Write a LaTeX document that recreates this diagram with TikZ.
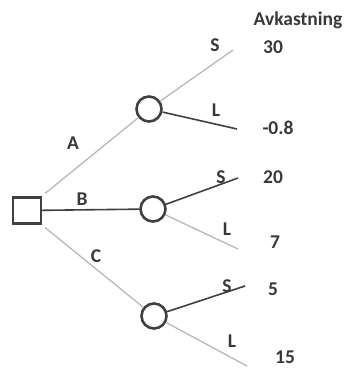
\documentclass[tikz,border=0pt]{standalone}
\usepackage{fontspec}
\setmainfont{Carlito}
\begin{document}
\begin{tikzpicture}[x=1pt,y=-1pt,
  darkline/.style={draw=black!75, line width=1.6pt},
  lightline/.style={draw=black!28, line width=1.3pt},
  decision/.style={draw=black!75, line width=2.2pt, minimum width=28pt, minimum height=26pt, inner sep=0pt},
  chance/.style={circle, draw=black!75, line width=2.6pt, minimum size=25pt, inner sep=0pt},
  lbl/.style={font=\bfseries\fontsize{19.5}{22}\selectfont, text=black!78, inner sep=0pt}]
\useasboundingbox (0,0) rectangle (347,368);

% decision and chance nodes
\node[decision] (sq) at (27,210.5) {};
\node[chance] (cA) at (149,109) {};
\node[chance] (cB) at (153,209) {};
\node[chance] (cC) at (154,316) {};

% free ends of the outcome branches
\coordinate (eAS) at (233,50);
\coordinate (eAL) at (237,129);
\coordinate (eBS) at (238,178);
\coordinate (eBL) at (238,249);
\coordinate (eCS) at (245,286);
\coordinate (eCL) at (247,366);

% alternatives
\draw[lightline] ([shift={(3,-3)}]sq.north east) -- (cA);
\draw[darkline] (sq) -- (cB);
\draw[lightline] ([shift={(3,3)}]sq.south east) -- (cC);

% outcomes
\draw[lightline] (cA) -- (eAS);
\draw[darkline] (cA) -- (eAL);
\draw[darkline] (cB) -- (eBS);
\draw[lightline] (cB) -- (eBL);
\draw[darkline] (cC) -- (eCS);
\draw[lightline] (cC) -- (eCL);

% branch labels
\node[lbl] (lA) at (73,143) {A};
\node[lbl] (lB) at (82,199) {B};
\node[lbl] (lC) at (96,256) {C};
\node[lbl] (lAS) at (215,45) {S};
\node[lbl] (lAL) at (216,110) {L};
\node[lbl] (lBS) at (221,177) {S};
\node[lbl] (lBL) at (227,229) {L};
\node[lbl] (lCS) at (227,286) {S};
\node[lbl] (lCL) at (232,341) {L};

% returns
\node[lbl] (head) at (298,20) {Avkastning};
\node[lbl] (r1) at (273,47) {30};
\node[lbl] (r2) at (278,128) {-0.8};
\node[lbl] (r3) at (273,177) {20};
\node[lbl] (r4) at (275,242) {7};
\node[lbl] (r5) at (273,289) {5};
\node[lbl] (r6) at (285,357) {15};
\end{tikzpicture}
\end{document}
